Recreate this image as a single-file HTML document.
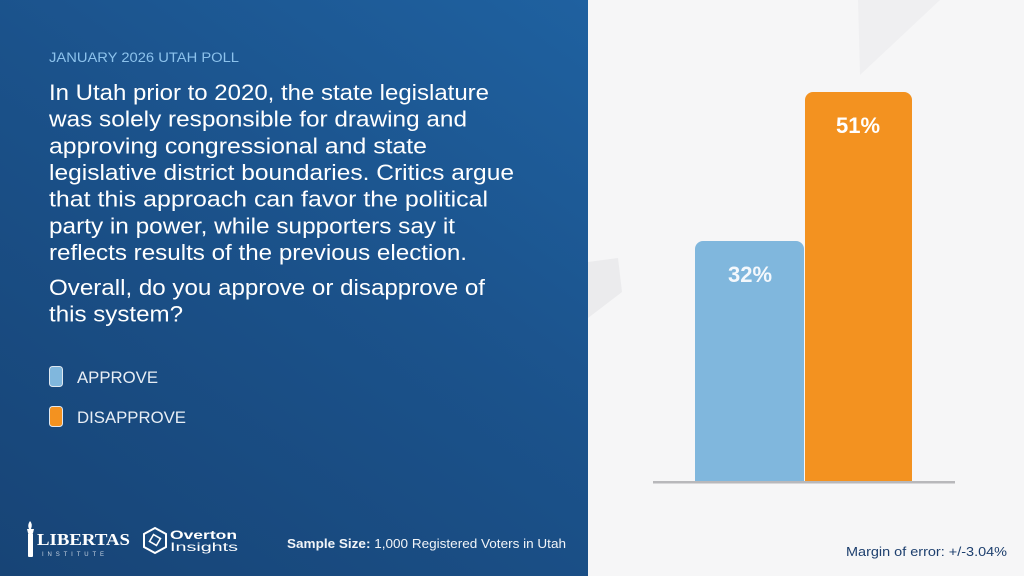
<!DOCTYPE html>
<html><head><meta charset="utf-8"><style>
html,body{margin:0;padding:0}
body{width:1024px;height:576px;overflow:hidden;position:relative;background:#f6f6f7;font-family:"Liberation Sans",sans-serif}
.left{position:absolute;left:0;top:0;width:588px;height:576px;background:linear-gradient(215deg,#1f61a0 0%,#1b528b 45%,#174476 100%)}
</style></head><body>
<div class="left"></div>
<svg width="1024" height="576" style="position:absolute;left:0;top:0" font-family="Liberation Sans, sans-serif">
<polygon points="858,0 940,0 860,75" fill="#efeff1"/>
<polygon points="588,262 618,258 622,292 588,318" fill="#ebebed"/>
<text x="49" y="62" fill="#8cc2ec" font-size="13.5" textLength="190" lengthAdjust="spacingAndGlyphs">JANUARY 2026 UTAH POLL</text>
<g fill="#fff" font-size="22">
<text x="49" y="100" textLength="440" lengthAdjust="spacingAndGlyphs">In Utah prior to 2020, the state legislature</text>
<text x="49" y="126.7" textLength="418" lengthAdjust="spacingAndGlyphs">was solely responsible for drawing and</text>
<text x="49" y="153.3" textLength="378" lengthAdjust="spacingAndGlyphs">approving congressional and state</text>
<text x="49" y="180" textLength="465" lengthAdjust="spacingAndGlyphs">legislative district boundaries. Critics argue</text>
<text x="49" y="206.7" textLength="439" lengthAdjust="spacingAndGlyphs">that this approach can favor the political</text>
<text x="49" y="233.3" textLength="406" lengthAdjust="spacingAndGlyphs">party in power, while supporters say it</text>
<text x="49" y="260" textLength="418" lengthAdjust="spacingAndGlyphs">reflects results of the previous election.</text>
<text x="49" y="295" textLength="436" lengthAdjust="spacingAndGlyphs">Overall, do you approve or disapprove of</text>
<text x="49" y="321.5" textLength="134" lengthAdjust="spacingAndGlyphs">this system?</text>
</g>
<rect x="49.5" y="366.5" width="13" height="20" rx="3" fill="#80b7dd" stroke="#dfe8f0" stroke-width="1"/>
<rect x="49.5" y="406.5" width="13" height="20" rx="3" fill="#f39220" stroke="#dfe8f0" stroke-width="1"/>
<text x="77" y="383" fill="#e8eef5" font-size="17" textLength="81" lengthAdjust="spacingAndGlyphs">APPROVE</text>
<text x="77" y="423" fill="#e8eef5" font-size="17" textLength="109" lengthAdjust="spacingAndGlyphs">DISAPPROVE</text>
<g fill="#fff">
<rect x="28" y="533" width="5" height="24" rx="1"/><path d="M27,529 h7 l-1,4 h-5z"/><path d="M30,521 q3,3 1,8 h-2 q-2,-4 1,-8z"/>
<text x="37" y="545" font-family="Liberation Serif, serif" font-size="17" font-weight="bold" textLength="93" lengthAdjust="spacingAndGlyphs">LIBERTAS</text>
<text x="42" y="556" font-size="6" textLength="62" lengthAdjust="spacing" fill="#c8d4e2">INSTITUTE</text>
<polygon points="155,528 166,534 166,547 155,553 144,547 144,534" fill="none" stroke="#fff" stroke-width="2"/>
<rect x="151" y="536" width="8" height="8" fill="none" stroke="#fff" stroke-width="1.6" transform="rotate(30 155 540)"/>
<text x="170" y="539" font-size="12" font-weight="bold" textLength="67" lengthAdjust="spacingAndGlyphs">Overton</text>
<text x="170" y="551" font-size="12" textLength="68" lengthAdjust="spacingAndGlyphs">Insights</text>
</g>
<text x="287" y="548" fill="#f1f4f8" font-size="13" textLength="279" lengthAdjust="spacingAndGlyphs"><tspan font-weight="bold">Sample Size:</tspan> 1,000 Registered Voters in Utah</text>
<path d="M695,482 V249 a8,8 0 0 1 8,-8 H796 a8,8 0 0 1 8,8 V482z" fill="#80b7dd"/>
<path d="M805,482 V100 a8,8 0 0 1 8,-8 H904 a8,8 0 0 1 8,8 V482z" fill="#f39220"/>
<rect x="653" y="481" width="302" height="2.5" fill="#b8b8bb"/>
<text x="750" y="282" text-anchor="middle" fill="#f4f8fc" font-size="22" font-weight="bold">32%</text>
<text x="858" y="133" text-anchor="middle" fill="#fff" font-size="22" font-weight="bold">51%</text>
<text x="846" y="556" fill="#1d3f6e" font-size="12.5" textLength="161" lengthAdjust="spacingAndGlyphs">Margin of error: +/-3.04%</text>
</svg>
</body></html>
